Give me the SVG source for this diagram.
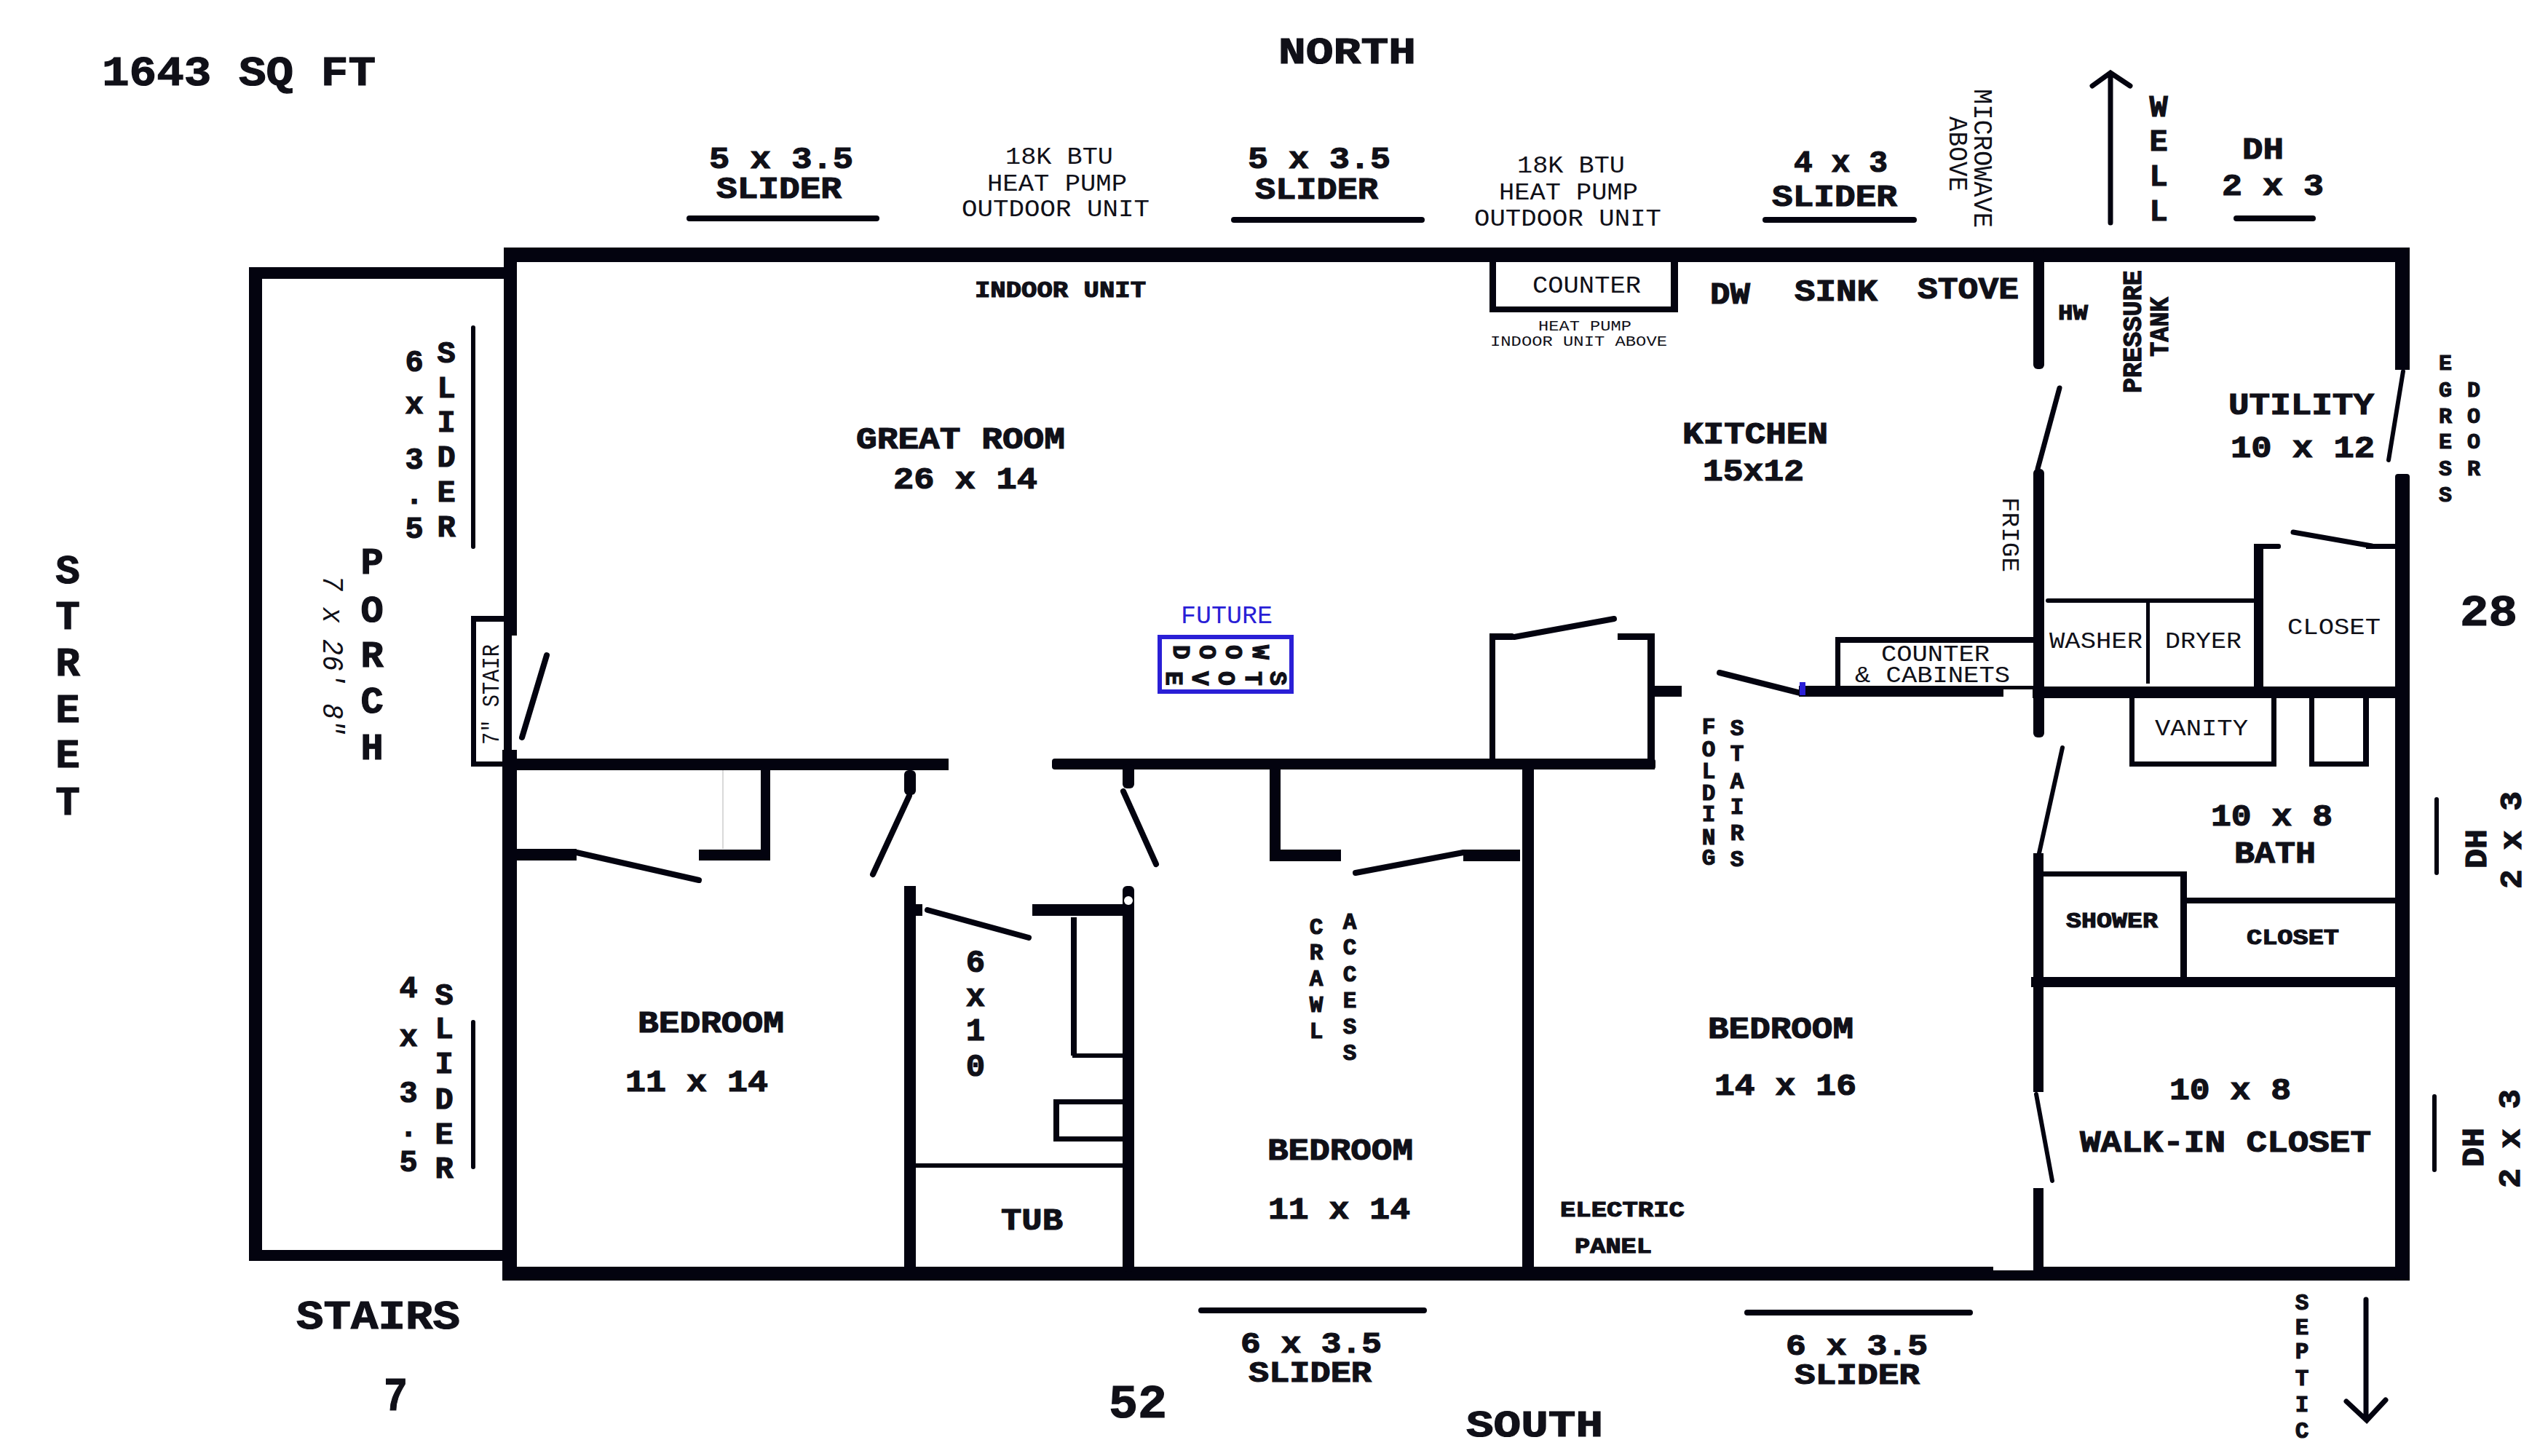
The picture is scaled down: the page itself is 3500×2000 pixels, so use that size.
<svg xmlns="http://www.w3.org/2000/svg" width="3500" height="2000" viewBox="0 0 3500 2000">
<style>
text{font-family:"Liberation Mono","DejaVu Sans Mono",monospace;fill:#101018}
.b{font-weight:bold;stroke:#101018;stroke-width:1.2}
.m{text-anchor:middle}
.s42{font-size:42px}.s40{font-size:40px}.s31{font-size:31px}.s33{font-size:33px}.s30{font-size:30px}.s44{font-size:44px}.s21{font-size:21px}.s37{font-size:37px}.s52{font-size:52px}.s64{font-size:64px}
.wall{fill:#03030f}
.door{stroke:#03030f;stroke-width:8;stroke-linecap:round;fill:none}
.bar{stroke:#03030f;fill:none;stroke-linecap:round}
</style>
<rect width="3500" height="2000" fill="#fff"/>
<g id="walls" class="wall">
<rect x="692" y="340" width="2618" height="20"/>
<rect x="692" y="1740" width="2618" height="19"/>
<rect x="692" y="340" width="18" height="533"/>
<rect x="692" y="873" width="11" height="160"/>
<rect x="690" y="1030" width="20" height="729"/>
<rect x="3290" y="340" width="20" height="168"/>
<rect x="3290" y="651" width="20" height="1108" rx="4"/>
<rect x="342" y="367" width="18" height="1365"/>
<rect x="342" y="367" width="350" height="16"/>
<rect x="342" y="1717" width="350" height="15"/>
<rect x="647" y="846" width="7" height="207"/>
<rect x="647" y="846" width="45" height="8"/>
<rect x="647" y="1046" width="45" height="7"/>
<rect x="700" y="1042" width="603" height="16"/>
<rect x="1445" y="1042" width="829" height="15" rx="4"/>
<rect x="1045" y="1058" width="13" height="124"/>
<rect x="960" y="1167" width="96" height="15"/>
<rect x="710" y="1166" width="82" height="16"/>
<rect x="1242" y="1058" width="16" height="34" rx="6"/>
<rect x="1242" y="1217" width="16" height="530"/>
<rect x="1242" y="1242" width="25" height="16"/>
<rect x="1418" y="1242" width="140" height="16"/>
<rect x="1542" y="1217" width="16" height="530" rx="6"/>
<rect x="1542" y="1050" width="16" height="33" rx="6"/>
<rect x="1471" y="1260" width="8" height="190"/>
<rect x="1473" y="1447" width="70" height="6"/>
<rect x="1447" y="1510" width="8" height="57"/>
<rect x="1447" y="1510" width="96" height="7"/>
<rect x="1447" y="1561" width="96" height="7"/>
<rect x="1255" y="1598" width="288" height="6"/>
<rect x="1744" y="1050" width="15" height="133"/>
<rect x="1744" y="1167" width="98" height="16"/>
<rect x="2010" y="1167" width="78" height="16"/>
<rect x="2091" y="1050" width="16" height="700"/>
<rect x="2046" y="870" width="8" height="172"/>
<rect x="2046" y="870" width="34" height="9" rx="3"/>
<rect x="2222" y="870" width="51" height="9"/>
<rect x="2263" y="870" width="10" height="187"/>
<rect x="2263" y="942" width="47" height="15"/>
<rect x="2471" y="942" width="281" height="15"/>
<rect x="2752" y="942" width="42" height="5"/>
<rect x="2521" y="875" width="7" height="70"/>
<rect x="2521" y="875" width="272" height="8"/>
<rect x="2793" y="340" width="15" height="167" rx="6"/>
<rect x="2793" y="644" width="15" height="369" rx="6"/>
<rect x="2793" y="1172" width="14" height="328"/>
<rect x="2793" y="1632" width="14" height="120"/>
<rect x="2792" y="943" width="518" height="16"/>
<rect x="2810" y="822" width="288" height="6" rx="3"/>
<rect x="2948" y="826" width="5" height="113"/>
<rect x="3096" y="747" width="13" height="197"/>
<rect x="3096" y="747" width="37" height="7" rx="3"/>
<rect x="3250" y="747" width="42" height="7"/>
<rect x="2925" y="955" width="7" height="98"/>
<rect x="3120" y="955" width="7" height="98"/>
<rect x="2925" y="1046" width="202" height="7"/>
<rect x="3172" y="955" width="7" height="98"/>
<rect x="3246" y="955" width="8" height="98"/>
<rect x="3172" y="1046" width="82" height="7"/>
<rect x="2793" y="1197" width="211" height="7"/>
<rect x="2995" y="1197" width="9" height="150"/>
<rect x="3004" y="1233" width="288" height="8"/>
<rect x="2790" y="1342" width="502" height="14"/>
<rect x="2046" y="360" width="9" height="69"/>
<rect x="2295" y="360" width="10" height="69"/>
<rect x="2046" y="421" width="259" height="8"/>
</g>
<rect x="2738" y="1740" width="55" height="5" fill="#fff"/>
<circle cx="1550" cy="1237" r="6" fill="#fff"/>
<line x1="993" y1="1058" x2="993" y2="1166" stroke="#ccc" stroke-width="1.5"/>
<g id="doors" class="door">
<line x1="751" y1="900" x2="717" y2="1013"/>
<line x1="792" y1="1171" x2="960" y2="1209"/>
<line x1="1249" y1="1093" x2="1199" y2="1201"/>
<line x1="1543" y1="1087" x2="1588" y2="1187"/>
<line x1="1274" y1="1250" x2="1413" y2="1288"/>
<line x1="2010" y1="1171" x2="1862" y2="1199"/>
<line x1="2080" y1="875" x2="2217" y2="850"/>
<line x1="2362" y1="924" x2="2473" y2="952"/>
<line x1="2829" y1="533" x2="2799" y2="644" stroke-width="7"/>
<line x1="3301" y1="510" x2="3281" y2="632" stroke-width="6"/>
<line x1="3150" y1="731" x2="3258" y2="750" stroke-width="7"/>
<line x1="2833" y1="1027" x2="2801" y2="1172" stroke-width="6"/>
<line x1="2797" y1="1503" x2="2819" y2="1622" stroke-width="6"/>
</g>
<rect x="2472" y="937" width="8" height="18" fill="#2a1fd6"/>
<g id="window-bars" class="bar">
<line x1="947" y1="300" x2="1204" y2="300" stroke-width="8"/>
<line x1="1695" y1="302" x2="1953" y2="302" stroke-width="8"/>
<line x1="2425" y1="302" x2="2629" y2="302" stroke-width="8"/>
<line x1="3072" y1="300" x2="3177" y2="300" stroke-width="8"/>
<line x1="650" y1="450" x2="650" y2="751" stroke-width="6"/>
<line x1="650" y1="1404" x2="650" y2="1603" stroke-width="6"/>
<line x1="3347" y1="1098" x2="3347" y2="1199" stroke-width="6"/>
<line x1="3344" y1="1506" x2="3344" y2="1607" stroke-width="6"/>
<line x1="1650" y1="1800" x2="1956" y2="1800" stroke-width="8"/>
<line x1="2400" y1="1803" x2="2706" y2="1803" stroke-width="8"/>
</g>
<g id="arrows" class="bar" stroke-width="7">
<path d="M2899 306V102M2874 118L2899 100L2926 118"/>
<path d="M3250 1785V1948M3223 1925L3251 1951L3277 1923"/>
</g>
<g id="wood-stove">
<rect x="1593" y="875" width="181" height="75" fill="none" stroke="#2a1fd6" stroke-width="6"/>
<text x="1622" y="856" font-size="35" textLength="126" lengthAdjust="spacingAndGlyphs" style="fill:#2a1fd6">FUTURE</text>
<g class="b m s33">
<text transform="translate(1732,896) rotate(90)" y="11">W</text>
<text transform="translate(1695,896) rotate(90)" y="11">O</text>
<text transform="translate(1659,896) rotate(90)" y="11">O</text>
<text transform="translate(1623,896) rotate(90)" y="11">D</text>
<text transform="translate(1756,932) rotate(90)" y="11">S</text>
<text transform="translate(1722,932) rotate(90)" y="11">T</text>
<text transform="translate(1685,932) rotate(90)" y="11">O</text>
<text transform="translate(1649,932) rotate(90)" y="11">V</text>
<text transform="translate(1613,932) rotate(90)" y="11">E</text>
</g>
</g>
<g id="labels-bold" class="b s42">
<text x="140" y="117" style="font-size:58px" textLength="376" lengthAdjust="spacingAndGlyphs">1643 SQ FT</text>
<text x="1756" y="87" style="font-size:52px" textLength="189" lengthAdjust="spacingAndGlyphs">NORTH</text>
<text x="974" y="231" textLength="198" lengthAdjust="spacingAndGlyphs">5 x 3.5</text>
<text x="984" y="272" textLength="172" lengthAdjust="spacingAndGlyphs">SLIDER</text>
<text x="1714" y="231" textLength="196" lengthAdjust="spacingAndGlyphs">5 x 3.5</text>
<text x="1724" y="273" textLength="169" lengthAdjust="spacingAndGlyphs">SLIDER</text>
<text x="2464" y="236" textLength="129" lengthAdjust="spacingAndGlyphs">4 x 3</text>
<text x="2434" y="283" textLength="172" lengthAdjust="spacingAndGlyphs">SLIDER</text>
<text x="3080" y="218" textLength="57" lengthAdjust="spacingAndGlyphs">DH</text>
<text x="3052" y="268" textLength="140" lengthAdjust="spacingAndGlyphs">2 x 3</text>
<text x="1339" y="408" class="s31" textLength="235" lengthAdjust="spacingAndGlyphs">INDOOR UNIT</text>
<text x="2349" y="417" textLength="55" lengthAdjust="spacingAndGlyphs">DW</text>
<text x="2465" y="413" textLength="114" lengthAdjust="spacingAndGlyphs">SINK</text>
<text x="2634" y="410" textLength="139" lengthAdjust="spacingAndGlyphs">STOVE</text>
<text x="2827" y="439" class="s30" textLength="41" lengthAdjust="spacingAndGlyphs">HW</text>
<text x="3061" y="569" textLength="200" lengthAdjust="spacingAndGlyphs">UTILITY</text>
<text x="3064" y="628" textLength="198" lengthAdjust="spacingAndGlyphs">10 x 12</text>
<text x="3379" y="859" style="font-size:62px" textLength="79" lengthAdjust="spacingAndGlyphs">28</text>
<text x="2311" y="609" textLength="200" lengthAdjust="spacingAndGlyphs">KITCHEN</text>
<text x="2339" y="660" textLength="139" lengthAdjust="spacingAndGlyphs">15x12</text>
<text x="1176" y="616" textLength="287" lengthAdjust="spacingAndGlyphs">GREAT ROOM</text>
<text x="1227" y="671" textLength="198" lengthAdjust="spacingAndGlyphs">26 x 14</text>
<text x="876" y="1418" textLength="201" lengthAdjust="spacingAndGlyphs">BEDROOM</text>
<text x="859" y="1499" textLength="196" lengthAdjust="spacingAndGlyphs">11 x 14</text>
<text x="1375" y="1689" textLength="85" lengthAdjust="spacingAndGlyphs">TUB</text>
<text x="407" y="1825" style="font-size:56px" textLength="225" lengthAdjust="spacingAndGlyphs">STAIRS</text>
<text x="527" y="1937" class="s64" textLength="33" lengthAdjust="spacingAndGlyphs">7</text>
<text x="1523" y="1947" class="s64" textLength="80" lengthAdjust="spacingAndGlyphs">52</text>
<text x="1704" y="1858" class="s40" textLength="194" lengthAdjust="spacingAndGlyphs">6 x 3.5</text>
<text x="1715" y="1898" class="s40" textLength="169" lengthAdjust="spacingAndGlyphs">SLIDER</text>
<text x="2453" y="1861" class="s40" textLength="195" lengthAdjust="spacingAndGlyphs">6 x 3.5</text>
<text x="2465" y="1901" class="s40" textLength="172" lengthAdjust="spacingAndGlyphs">SLIDER</text>
<text x="2014" y="1973" class="s52" textLength="188" lengthAdjust="spacingAndGlyphs">SOUTH</text>
<text x="2143" y="1671" class="s30" textLength="171" lengthAdjust="spacingAndGlyphs">ELECTRIC</text>
<text x="2163" y="1721" class="s30" textLength="106" lengthAdjust="spacingAndGlyphs">PANEL</text>
<text x="1741" y="1593" textLength="200" lengthAdjust="spacingAndGlyphs">BEDROOM</text>
<text x="1742" y="1674" textLength="195" lengthAdjust="spacingAndGlyphs">11 x 14</text>
<text x="2346" y="1426" textLength="200" lengthAdjust="spacingAndGlyphs">BEDROOM</text>
<text x="2355" y="1504" textLength="195" lengthAdjust="spacingAndGlyphs">14 x 16</text>
<text x="3037" y="1134" textLength="167" lengthAdjust="spacingAndGlyphs">10 x 8</text>
<text x="3069" y="1185" textLength="112" lengthAdjust="spacingAndGlyphs">BATH</text>
<text x="2838" y="1274" class="s30" textLength="126" lengthAdjust="spacingAndGlyphs">SHOWER</text>
<text x="3086" y="1297" class="s30" textLength="127" lengthAdjust="spacingAndGlyphs">CLOSET</text>
<text x="2980" y="1510" textLength="167" lengthAdjust="spacingAndGlyphs">10 x 8</text>
<text x="2857" y="1582" textLength="400" lengthAdjust="spacingAndGlyphs">WALK-IN CLOSET</text>
<text transform="translate(2941,540) rotate(-90)" class="s37" textLength="169" lengthAdjust="spacingAndGlyphs">PRESSURE</text>
<text transform="translate(2978,490) rotate(-90)" class="s37" textLength="82" lengthAdjust="spacingAndGlyphs">TANK</text>
<text transform="translate(3415,1193) rotate(-90)" textLength="54" lengthAdjust="spacingAndGlyphs">DH</text>
<text transform="translate(3463,1221) rotate(-90)" textLength="134" lengthAdjust="spacingAndGlyphs">2 x 3</text>
<text transform="translate(3411,1603) rotate(-90)" textLength="54" lengthAdjust="spacingAndGlyphs">DH</text>
<text transform="translate(3461,1632) rotate(-90)" textLength="136" lengthAdjust="spacingAndGlyphs">2 x 3</text>
</g>
<g id="labels-regular" class="s33">
<text x="1381" y="225" textLength="148" lengthAdjust="spacingAndGlyphs">18K BTU</text>
<text x="1356" y="262" textLength="192" lengthAdjust="spacingAndGlyphs">HEAT PUMP</text>
<text x="1321" y="297" textLength="258" lengthAdjust="spacingAndGlyphs">OUTDOOR UNIT</text>
<text x="2084" y="237" textLength="148" lengthAdjust="spacingAndGlyphs">18K BTU</text>
<text x="2059" y="274" textLength="191" lengthAdjust="spacingAndGlyphs">HEAT PUMP</text>
<text x="2025" y="310" textLength="257" lengthAdjust="spacingAndGlyphs">OUTDOOR UNIT</text>
<text x="2105" y="402" textLength="149" lengthAdjust="spacingAndGlyphs">COUNTER</text>
<text x="2113" y="454" class="s21" textLength="128" lengthAdjust="spacingAndGlyphs">HEAT PUMP</text>
<text x="2047" y="475" class="s21" textLength="243" lengthAdjust="spacingAndGlyphs">INDOOR UNIT ABOVE</text>
<text x="2815" y="890" class="s31" textLength="128" lengthAdjust="spacingAndGlyphs">WASHER</text>
<text x="2974" y="890" class="s31" textLength="105" lengthAdjust="spacingAndGlyphs">DRYER</text>
<text x="3142" y="871" class="s31" textLength="128" lengthAdjust="spacingAndGlyphs">CLOSET</text>
<text x="2960" y="1010" class="s31" textLength="128" lengthAdjust="spacingAndGlyphs">VANITY</text>
<text x="2584" y="908" class="s31" textLength="149" lengthAdjust="spacingAndGlyphs">COUNTER</text>
<text x="2548" y="937" class="s31" textLength="213" lengthAdjust="spacingAndGlyphs">&amp; CABINETS</text>
<text transform="translate(2712,122) rotate(90)" class="s37" textLength="191" lengthAdjust="spacingAndGlyphs">MICROWAVE</text>
<text transform="translate(2678,160) rotate(90)" class="s37" textLength="103" lengthAdjust="spacingAndGlyphs">ABOVE</text>
<text transform="translate(2751,683) rotate(90)" textLength="103" lengthAdjust="spacingAndGlyphs">FRIGE</text>
<text transform="translate(685,1023) rotate(-90)" textLength="138" lengthAdjust="spacingAndGlyphs">7" STAIR</text>
<text transform="translate(444,790) rotate(90)" style="font-size:40px;font-style:italic" textLength="220" lengthAdjust="spacingAndGlyphs">7 x 26' 8"</text>
</g>
<g id="labels-stacked" class="b m">
<g class="s42">
<text x="2965" y="160">W</text><text x="2965" y="207">E</text><text x="2965" y="255">L</text><text x="2965" y="303">L</text>
<text x="613" y="498">S</text><text x="613" y="546">L</text><text x="613" y="593">I</text><text x="613" y="641">D</text><text x="613" y="689">E</text><text x="613" y="737">R</text>
<text x="569" y="510">6</text><text x="569" y="568">x</text><text x="569" y="644">3</text><text x="569" y="692">.</text><text x="569" y="739">5</text>
<text x="610" y="1380">S</text><text x="610" y="1426">L</text><text x="610" y="1474">I</text><text x="610" y="1523">D</text><text x="610" y="1571">E</text><text x="610" y="1618">R</text>
<text x="561" y="1370">4</text><text x="561" y="1437">x</text><text x="561" y="1514">3</text><text x="561" y="1561">.</text><text x="561" y="1609">5</text>
</g>
<g class="s44">
<text x="1340" y="1335">6</text><text x="1340" y="1382">x</text><text x="1340" y="1429">1</text><text x="1340" y="1478">0</text>
</g>
<g class="s52">
<text x="511" y="788">P</text><text x="511" y="854">O</text><text x="511" y="916">R</text><text x="511" y="979">C</text><text x="511" y="1043">H</text>
</g>
<g style="font-size:56px">
<text x="93" y="801">S</text><text x="93" y="864">T</text><text x="93" y="928">R</text><text x="93" y="992">E</text><text x="93" y="1054">E</text><text x="93" y="1119">T</text>
</g>
<g class="s30">
<text x="3359" y="508">E</text><text x="3359" y="545">G</text><text x="3359" y="581">R</text><text x="3359" y="616">E</text><text x="3359" y="653">S</text><text x="3359" y="689">S</text>
<text x="3398" y="545">D</text><text x="3398" y="581">O</text><text x="3398" y="616">O</text><text x="3398" y="653">R</text>
</g>
<g class="s31">
<text x="3162" y="1799">S</text><text x="3162" y="1833">E</text><text x="3162" y="1866">P</text><text x="3162" y="1903">T</text><text x="3162" y="1939">I</text><text x="3162" y="1975">C</text>
<text x="1808" y="1283">C</text><text x="1808" y="1318">R</text><text x="1808" y="1354">A</text><text x="1808" y="1390">W</text><text x="1808" y="1426">L</text>
<text x="1854" y="1276">A</text><text x="1854" y="1311">C</text><text x="1854" y="1348">C</text><text x="1854" y="1384">E</text><text x="1854" y="1420">S</text><text x="1854" y="1456">S</text>
<text x="2347" y="1008">F</text><text x="2347" y="1039">O</text><text x="2347" y="1069">L</text><text x="2347" y="1099">D</text><text x="2347" y="1128">I</text><text x="2347" y="1160">N</text><text x="2347" y="1188">G</text>
<text x="2386" y="1010">S</text><text x="2386" y="1045">T</text><text x="2386" y="1083">A</text><text x="2386" y="1118">I</text><text x="2386" y="1154">R</text><text x="2386" y="1190">S</text>
</g>
</g>
</svg>
